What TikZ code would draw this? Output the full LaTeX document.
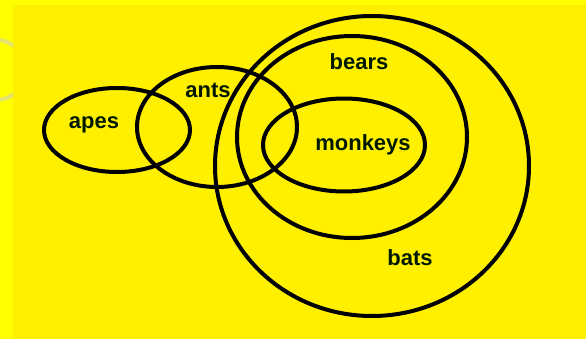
\documentclass[tikz,border=0pt]{standalone}
\usepackage{fontspec}
\setmainfont{Liberation Sans}
\usepackage{tikz}
\usetikzlibrary{shapes.geometric}
\definecolor{PaintYellow}{RGB}{255,255,0}
\definecolor{SetYellow}{RGB}{255,240,0}
\definecolor{GhostGray}{RGB}{228,228,110}

\begin{document}
\begin{tikzpicture}[x=1pt, y=-1pt,
          setring/.style={ellipse, draw=black, line width=4pt, inner sep=0pt},
          setlabel/.style={font=\fontsize{22}{22}\selectfont\bfseries, text=black!90!green}
        ]
        % Background
        \fill[PaintYellow] (0,0) rectangle (586,339);
        \fill[SetYellow] (13,5) rectangle (586,339);
        \useasboundingbox (0,0) rectangle (586,339);

        % Faint leftover arc
        \begin{scope}
          \clip (0,0) rectangle (13,339);
          \draw[GhostGray, line width=4pt] (-4,70) circle (30);
        \end{scope}

        % Sets
        \node[setring, minimum width=146pt, minimum height=84pt] (apes) at (117,130) {};
        \node[setring, minimum width=160pt, minimum height=120pt] (ants) at (217,127) {};
        \node[setring, minimum width=314pt, minimum height=300pt] (bats) at (372,166) {};
        \node[setring, minimum width=230pt, minimum height=202pt] (bears) at (352,137) {};
        \node[setring, minimum width=162pt, minimum height=93pt] (monkeys) at (344,145) {};

        % Labels
        \node[setlabel] (apeslbl) at (94,125) {apes};
        \node[setlabel] (antslbl) at (208,90) {ants};
        \node[setlabel] (bearslbl) at (359,62) {bears};
        \node[setlabel] (monkeyslbl) at (363,145) {monkeys};
        \node[setlabel] (batslbl) at (410,258) {bats};
      \end{tikzpicture}
\end{document}
